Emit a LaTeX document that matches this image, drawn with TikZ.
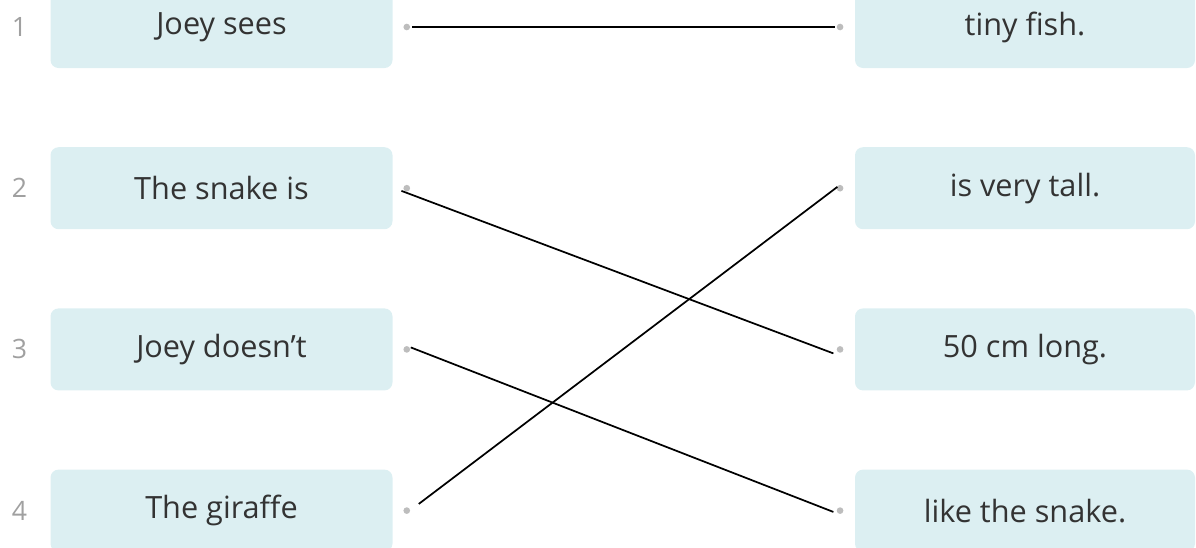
\documentclass[tikz,border=0pt]{standalone}
\usepackage{fontspec}
\setmainfont{Open Sans}
\usepackage{xcolor}
\definecolor{boxblue}{HTML}{DCEFF2}
\definecolor{dotgray}{HTML}{BDBDBD}
\definecolor{numgray}{HTML}{A0A0A0}
\definecolor{textgray}{HTML}{333333}
\usetikzlibrary{positioning}

\begin{document}
\begin{tikzpicture}[x=0.75pt, y=-0.75pt]
    \tikzstyle{leftbox} = [minimum height=61.5pt, minimum width=256.5pt, inner sep=3pt, rounded corners=6pt, fill=boxblue, text=textgray, font=\fontsize{23}{26}\selectfont]
    \tikzstyle{rightbox} = [leftbox, minimum width=255pt]
    \tikzstyle{numnode} = [text=numgray, font=\fontsize{20}{23}\selectfont]
    \tikzstyle{dotnode} = [circle, fill=dotgray, inner sep=0pt, minimum size=5pt]
    \tikzstyle{matchline} = [line width=1.3pt, black]

    \useasboundingbox (0,0) rectangle (1196,547);

    % left column
    \node [leftbox] (l1) at (221.5,27) {Joey sees};
    \node [leftbox, below=59pt of l1] (l2) {The snake is};
    \node [leftbox, below=59pt of l2] (l3) {Joey doesn't};
    \node [leftbox, below=59pt of l3] (l4) {The giraffe};

    \node [numnode] (n1) at ([xshift=-23pt]l1.west) {1};
    \node [numnode] (n2) at ([xshift=-23pt]l2.west) {2};
    \node [numnode] (n3) at ([xshift=-23pt]l3.west) {3};
    \node [numnode] (n4) at ([xshift=-23pt]l4.west) {4};

    % right column
    \node [rightbox] (r1) at (1025,27) {tiny fish.};
    \node [rightbox, below=59pt of r1] (r2) {is very tall.};
    \node [rightbox, below=59pt of r2] (r3) {50 cm long.};
    \node [rightbox, below=59pt of r3] (r4) {like the snake.};

    % dots
    \node [dotnode] (dl1) at ([xshift=10.5pt]l1.east) {};
    \node [dotnode] (dl2) at ([xshift=10.5pt]l2.east) {};
    \node [dotnode] (dl3) at ([xshift=10.5pt]l3.east) {};
    \node [dotnode] (dl4) at ([xshift=10.5pt]l4.east) {};
    \node [dotnode] (dr1) at ([xshift=-11pt]r1.west) {};
    \node [dotnode] (dr2) at ([xshift=-11pt]r2.west) {};
    \node [dotnode] (dr3) at ([xshift=-11pt]r3.west) {};
    \node [dotnode] (dr4) at ([xshift=-11pt]r4.west) {};

    % answers
    \coordinate (a1) at ([xshift=4pt]dl1.center);
    \coordinate (b1) at ([xshift=-4pt]dr1.center);
    \coordinate (a2) at ([xshift=-4pt,yshift=-2pt]dl2.center);
    \coordinate (b2) at ([xshift=-5pt,yshift=-3pt]dr3.center);
    \coordinate (a3) at ([xshift=3pt,yshift=1.5pt]dl3.center);
    \coordinate (b3) at ([xshift=-5pt,yshift=-1pt]dr4.center);
    \coordinate (a4) at ([xshift=9pt,yshift=5pt]dl4.center);
    \coordinate (b4) at ([xshift=-2pt,yshift=1pt]dr2.center);
    \draw [matchline] (a1) -- (b1);
    \draw [matchline] (a2) -- (b2);
    \draw [matchline] (a3) -- (b3);
    \draw [matchline] (a4) -- (b4);

\end{tikzpicture}
\end{document}
